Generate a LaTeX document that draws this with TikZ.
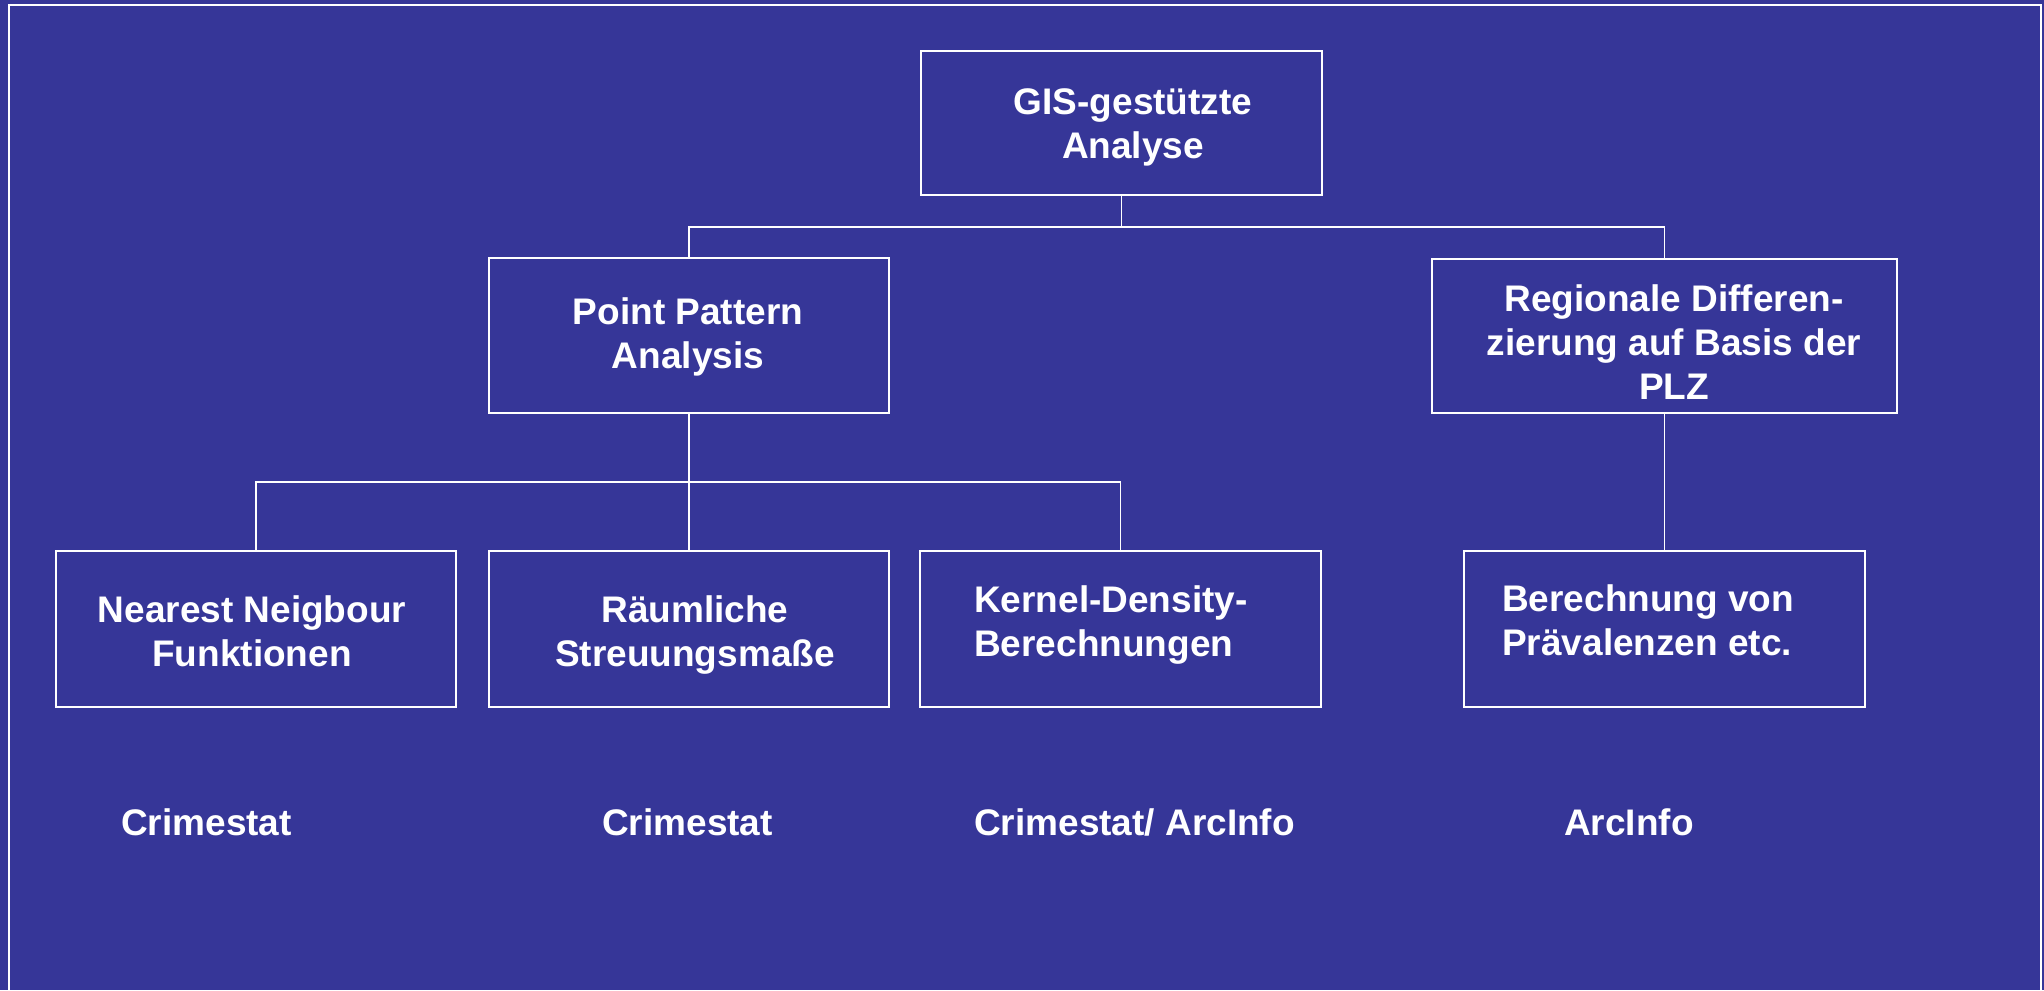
\documentclass[tikz,border=0pt]{standalone}
\usepackage{fontspec}
\setmainfont{Liberation Sans}
\definecolor{bgblue}{RGB}{54,54,152}
\begin{document}
\begin{tikzpicture}[x=1pt,y=-1pt,
  box/.style={draw=white,line width=1.6pt,minimum height=155pt,inner sep=0pt,outer sep=0pt},
  conn/.style={draw=white,line width=1.4pt},
  lbl/.style={text=white,font=\fontsize{37}{44}\selectfont\bfseries,inner sep=0pt,anchor=base},
  lbll/.style={lbl,anchor=base west,align=left}]
\fill[bgblue] (0,0) rectangle (2044,990);
\useasboundingbox (0,0) rectangle (2044,990);
\draw[white,line width=2pt] (9,995) -- (9,5.5) -- (2041,5.5) -- (2041,995);
% boxes
\node[box,minimum width=401pt,minimum height=144pt] (gis) at (1121.5,123) {};
\node[box,minimum width=400pt] (pp) at (689,335.5) {};
\node[box,minimum width=465pt,minimum height=154pt] (reg) at (1664.5,336) {};
\node[box,minimum width=400pt,minimum height=156pt] (nn) at (256,629) {};
\node[box,minimum width=400pt,minimum height=156pt] (raum) at (689,629) {};
\node[box,minimum width=401pt,minimum height=156pt] (kern) at (1120.5,629) {};
\node[box,minimum width=401pt,minimum height=156pt] (ber) at (1664.5,629) {};
% connectors
\draw[conn] (gis.south) -- ++(0,32) coordinate (j1);
\draw[conn] (pp.north) |- (j1) -| (reg.north);
\draw[conn] (pp.south) -- ++(0,69) coordinate (j2);
\draw[conn] (nn.north) |- (j2) -| (kern.north);
\draw[conn] (raum.north) -- (raum.north |- j2);
\draw[conn] (reg.south) -- (ber.north);
% texts (base anchor = baseline of last line)
\node[lbl,align=center] (tgis) at (1133,158) {GIS-gestützte\\Analyse};
\node[lbl,align=center] (tpp) at (688,368) {Point Pattern\\Analysis};
\node[lbl,align=center] (treg) at (1674,399) {Regionale Differen-\\zierung auf Basis der\\PLZ};
\node[lbl,align=center] (tnn) at (252,666) {Nearest Neigbour\\Funktionen};
\node[lbl,align=center] (traum) at (695,666) {Räumliche\\Streuungsmaße};
\node[lbll] (tkern) at (974,656) {Kernel-Density-\\Berechnungen};
\node[lbll] (tber) at (1502,655) {Berechnung von\\Prävalenzen etc.};
\node[lbl,anchor=base west] (c1) at (121,835) {Crimestat};
\node[lbl,anchor=base west] (c2) at (602,835) {Crimestat};
\node[lbl,anchor=base west] (c3) at (974,835) {Crimestat/ ArcInfo};
\node[lbl,anchor=base west] (c4) at (1564,835) {ArcInfo};
\end{tikzpicture}
\end{document}
